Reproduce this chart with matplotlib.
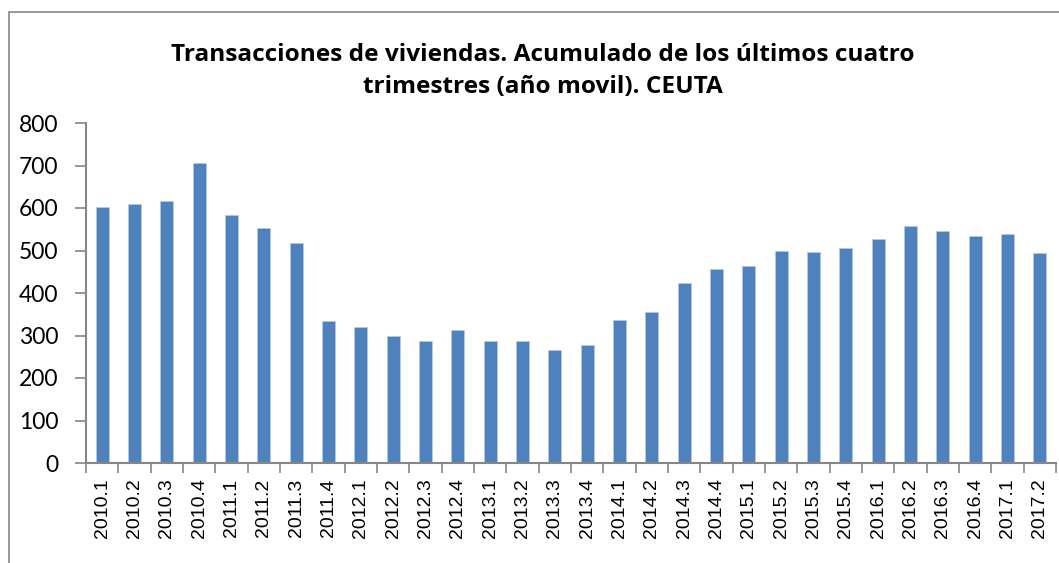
import matplotlib.pyplot as plt
from matplotlib.patches import Rectangle
import numpy as np

# trimestres y transacciones (año movil)
periodos = ['2010.1', '2010.2', '2010.3', '2010.4', '2011.1', '2011.2', '2011.3', '2011.4',
            '2012.1', '2012.2', '2012.3', '2012.4', '2013.1', '2013.2', '2013.3', '2013.4',
            '2014.1', '2014.2', '2014.3', '2014.4', '2015.1', '2015.2', '2015.3', '2015.4',
            '2016.1', '2016.2', '2016.3', '2016.4', '2017.1', '2017.2']
transacciones = [603, 609, 616, 707, 584, 554, 518, 334,
                 321, 299, 288, 314, 288, 286, 267, 277,
                 336, 355, 424, 457, 464, 500, 497, 505,
                 527, 558, 545, 534, 538, 494]
yticks = [0, 100, 200, 300, 400, 500, 600, 700, 800]

gris = '#868686'

fig = plt.figure(figsize=(10.59, 5.63), dpi=100)
ax = fig.add_axes([86 / 1059, 100 / 563, 970 / 1059, 340 / 563])

# marco del grafico (se sale por la derecha y abajo)
fig.patches.append(Rectangle((9 / 1059, -0.1), 1.2, (563 - 12) / 563 + 0.1,
                             transform=fig.transFigure, fill=False,
                             edgecolor=gris, linewidth=1.2))

x = np.arange(len(periodos))
ax.bar(x, transacciones, width=0.4, color='#4F81BD', edgecolor='#B9CDE5', linewidth=0.4)

ax.set_xlim(-0.5, len(periodos) - 0.5)
ax.set_ylim(0, 800)
ax.set_yticks(yticks)
ax.set_yticklabels([str(v) for v in yticks], family='Lato', fontsize=16.5)

ax.set_xticks(x)
ax.set_xticklabels(periodos, rotation=90, family='Liberation Sans', fontsize=14)
ax.set_xticks(np.arange(len(periodos) + 1) - 0.5, minor=True)
ax.tick_params(axis='x', which='major', length=0, pad=11)
ax.tick_params(axis='x', which='minor', length=7, width=1.2, color=gris, direction='out')
ax.tick_params(axis='y', length=8, width=1.2, color=gris, pad=12)

for s in ['top', 'right']:
    ax.spines[s].set_visible(False)
for s in ['left', 'bottom']:
    ax.spines[s].set_color(gris)
    ax.spines[s].set_linewidth(1.5)

fig.text(543 / 1059, 1 - 71 / 563,
         'Transacciones de viviendas. Acumulado de los últimos cuatro\ntrimestres (año movil). CEUTA',
         ha='center', va='center', family='Open Sans', fontweight='bold', fontsize=17.6,
         linespacing=1.4)

fig.savefig('out.png', dpi=100)
